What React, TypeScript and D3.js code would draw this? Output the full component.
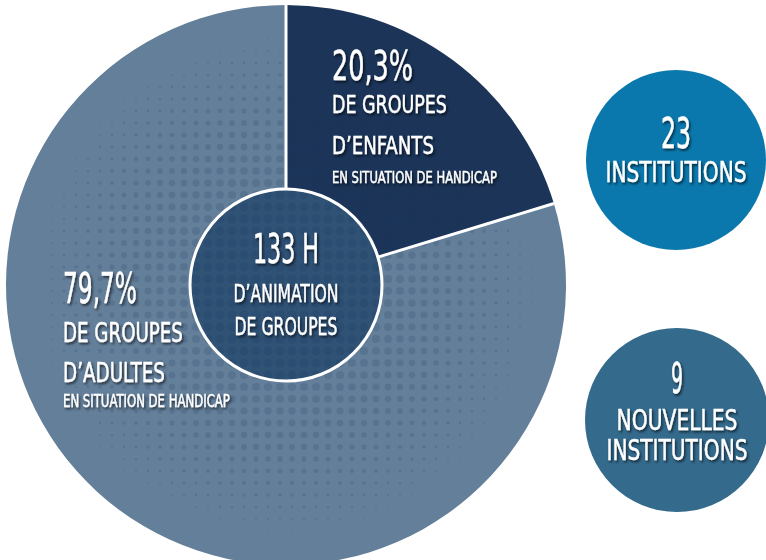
import React, { useEffect, useRef } from 'react';
import * as d3 from 'd3';

const width = 766;
const height = 560;

// pie data
const sliceNames = ['enfants', 'adultes'];
const sliceValues = [20.3, 79.7];
const sliceColors = ['#1b3458', '#647f99'];

// labels in the slices: [text, size, baseline, width]
const enfantsLines = [
  ['20,3%', 41, 80, 81],
  ['DE GROUPES', 25, 113, 115],
  ['D\u2019ENFANTS', 25, 154, 102],
  ['EN SITUATION DE HANDICAP', 16, 183, 165],
];
const adultesLines = [
  ['79,7%', 42, 303, 74],
  ['DE GROUPES', 26, 342, 120],
  ['D\u2019ADULTES', 27, 382, 102],
  ['EN SITUATION DE HANDICAP', 17, 407, 167],
];
const centreLines = [
  ['133 H', 40, 263, 66],
  ['D\u2019ANIMATION', 25, 302, 105],
  ['DE GROUPES', 25, 335, 103],
];

// side bubbles
const bubbleColors = ['#0b78ad', '#346a8c'];
const bubbleLines = [
  [
    ['23', 42, 148, 30],
    ['INSTITUTIONS', 29, 182, 141],
  ],
  [
    ['9', 42, 393, 12],
    ['NOUVELLES', 29, 430, 121],
    ['INSTITUTIONS', 29, 460, 141],
  ],
];

const font = '"Liberation Sans Narrow", "DejaVu Sans Condensed", "Open Sans", sans-serif';

function App() {
  const ref = useRef(null);

  useEffect(() => {
    const root = d3.select(ref.current);
    root.selectAll('*').remove();

    const cx = 286, cy = 285, R = 280, r0 = 96;

    const defs = root.append('defs');
    const shadow = defs.append('filter').attr('id', 'shadow')
      .attr('x', '-20%').attr('y', '-20%').attr('width', '140%').attr('height', '140%');
    shadow.append('feDropShadow')
      .attr('dx', 1.5).attr('dy', 2).attr('stdDeviation', 1)
      .attr('flood-color', '#000').attr('flood-opacity', 0.6);
    defs.append('clipPath').attr('id', 'pieclip')
      .append('circle').attr('cx', 0).attr('cy', 0).attr('r', R - 2);

    const pie = d3.pie().sort(null).value(d => d.value);
    const arc = d3.arc().innerRadius(0).outerRadius(R);
    const slices = pie(sliceNames.map((n, i) => ({ name: n, value: sliceValues[i] })));

    const g = root.append('g').attr('transform', 'translate(' + cx + ',' + cy + ')');
    g.selectAll('.slice')
      .data(slices)
      .enter().append('path')
      .attr('class', 'slice')
      .attr('d', arc)
      .attr('fill', (d, i) => sliceColors[i]);

    g.append('circle').attr('r', r0).attr('fill', '#2f5275');

    // halftone texture
    const step = 12;
    const pts = [];
    d3.range(-264, 265, step).forEach(x => {
      d3.range(-264, 265, step).forEach(y => {
        const dist = Math.sqrt((x + 6) * (x + 6) + (y + 6) * (y + 6));
        const rr = 4.8 * (1 - Math.pow(dist / 265, 2));
        if (rr > 0.6) pts.push({ x: x + 6, y: y + 6, r: rr });
      });
    });
    g.append('g').attr('clip-path', 'url(#pieclip)')
      .selectAll('circle')
      .data(pts)
      .enter().append('circle')
      .attr('cx', d => d.x)
      .attr('cy', d => d.y)
      .attr('r', d => d.r)
      .attr('fill', '#1e3566')
      .attr('fill-opacity', 0.16);

    // separators, from the inner circle outwards
    g.selectAll('.sep')
      .data(slices)
      .enter().append('line')
      .attr('class', 'sep')
      .attr('x1', d => Math.sin(d.startAngle) * r0)
      .attr('y1', d => -Math.cos(d.startAngle) * r0)
      .attr('x2', d => Math.sin(d.startAngle) * R)
      .attr('y2', d => -Math.cos(d.startAngle) * R)
      .attr('stroke', '#fff').attr('stroke-width', 3);

    g.append('circle').attr('r', r0).attr('fill', 'none')
      .attr('stroke', '#fff').attr('stroke-width', 3);

    const bubbles = [{ x: 676, y: 160, r: 90 }, { x: 677, y: 420, r: 92 }];
    root.selectAll('.bubble')
      .data(bubbles)
      .enter().append('circle')
      .attr('class', 'bubble')
      .attr('cx', d => d.x)
      .attr('cy', d => d.y)
      .attr('r', d => d.r)
      .attr('fill', (d, i) => bubbleColors[i]);

    const txt = root.append('g').attr('filter', 'url(#shadow)')
      .attr('font-family', font).attr('fill', '#fff')
      .attr('stroke', '#fff').attr('stroke-width', 0.4);

    // squeeze each line horizontally to the width
    function block(lines, x, anchor) {
      lines.forEach(l => {
        const t = txt.append('text')
          .attr('x', 0)
          .attr('y', 0)
          .attr('font-size', l[1])
          .attr('text-anchor', anchor)
          .text(l[0]);
        const natural = t.node().getComputedTextLength() || l[3];
        const sx = l[3] / natural;
        t.attr('transform', 'translate(' + x + ',' + l[2] + ') scale(' + sx + ',1)');
      });
    }

    block(enfantsLines, 332, 'start');
    block(adultesLines, 63, 'start');
    block(centreLines, 286, 'middle');
    bubbleLines.forEach((lines, i) => block(lines, bubbles[i].x, 'middle'));
  }, []);

  return (
    <svg width={width} height={height} ref={ref} style={{ position: 'absolute', left: 0, top: 0 }}></svg>
  );
}

export default App;
